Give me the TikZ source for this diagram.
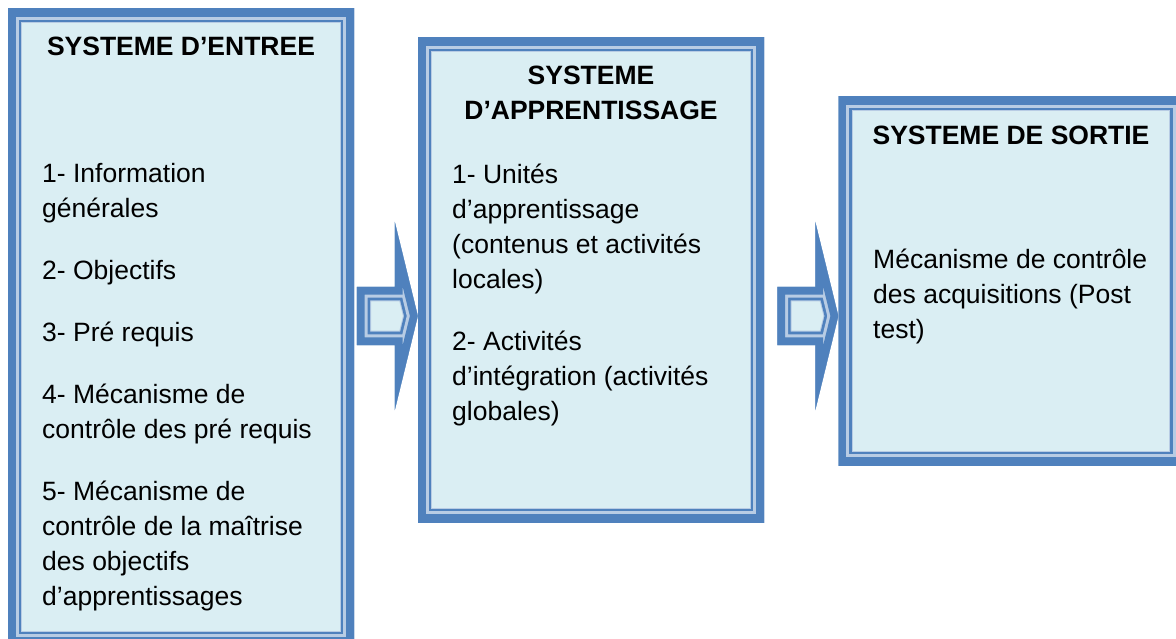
\documentclass[tikz,border=0pt]{standalone}
\usepackage{fontspec}
\setmainfont{Liberation Sans}
\definecolor{dkblue}{HTML}{4F81BD}
\definecolor{bandlight}{HTML}{B8CCE4}
\definecolor{boxfill}{HTML}{DAEEF3}
\tikzset{
  sysbox/.style={rectangle, inner sep=0pt, fill=boxfill, path picture={
    \foreach \w/\c in {28.8/bandlight,26.8/dkblue,21.4/bandlight,15.4/dkblue}
      \draw[draw=\c, line width=\w pt] (path picture bounding box.north west) rectangle (path picture bounding box.south east);
  }},
  titletext/.style={inner sep=0pt, font=\bfseries\fontsize{26.5}{35}\selectfont, align=center, anchor=base},
  bodytext/.style={inner sep=0pt, font=\fontsize{26.5}{35}\selectfont, align=left, anchor=base west},
  blockarrow/.pic={
    \begin{scope}
      \clip (-61,-29) -- (-23,-29) -- (-23,-94) -- (0,0) -- (-23,94) -- (-23,29) -- (-61,29) -- cycle;
      \fill[boxfill] (-61,-94) rectangle (0,94);
      \foreach \w/\c in {28.8/bandlight,26.8/dkblue,21.4/bandlight,15.4/dkblue}
        \draw[draw=\c, line width=\w pt] (-61,-29) -- (-23,-29) -- (-23,-94) -- (0,0) -- (-23,94) -- (-23,29) -- (-61,29) -- cycle;
    \end{scope}
  }
}
\begin{document}
\begin{tikzpicture}[x=1pt,y=-1pt]
\useasboundingbox (0,0) rectangle (1176,639);
% boxes
\node[sysbox, minimum width=346pt, minimum height=636pt] (b1) at (181,327) {};
\node[sysbox, minimum width=346pt, minimum height=484pt] (b2) at (591,280) {};
\node[sysbox, minimum width=345pt, minimum height=368pt] (b3) at (1011,281) {};
% arrows
\pic at (b2.west |- 0,316) {blockarrow};
\pic at (b3.west |- 0,316) {blockarrow};
% titles (base anchor = baseline of the last line)
\node[titletext] (t1) at (181,56) {SYSTEME D’ENTREE};
\node[titletext] (t2) at (591,120) {SYSTEME\\D’APPRENTISSAGE};
\node[titletext] (t3) at (1011,145) {SYSTEME DE SORTIE};
% bodies
\node[bodytext] (c1) at (42,605) {1- Information\\
générales\\[27pt]
2- Objectifs\\[27pt]
3- Pré requis\\[27pt]
4- Mécanisme de\\
contrôle des pré requis\\[27pt]
5- Mécanisme de\\
contrôle de la maîtrise\\
des objectifs\\
d’apprentissages};
\node[bodytext] (c2) at (452,420) {1- Unités\\
d’apprentissage\\
(contenus et activités\\
locales)\\[27pt]
2- Activités\\
d’intégration (activités\\
globales)};
\node[bodytext] (c3) at (873,338) {Mécanisme de contrôle\\
des acquisitions (Post\\
test)};
\end{tikzpicture}
\end{document}
